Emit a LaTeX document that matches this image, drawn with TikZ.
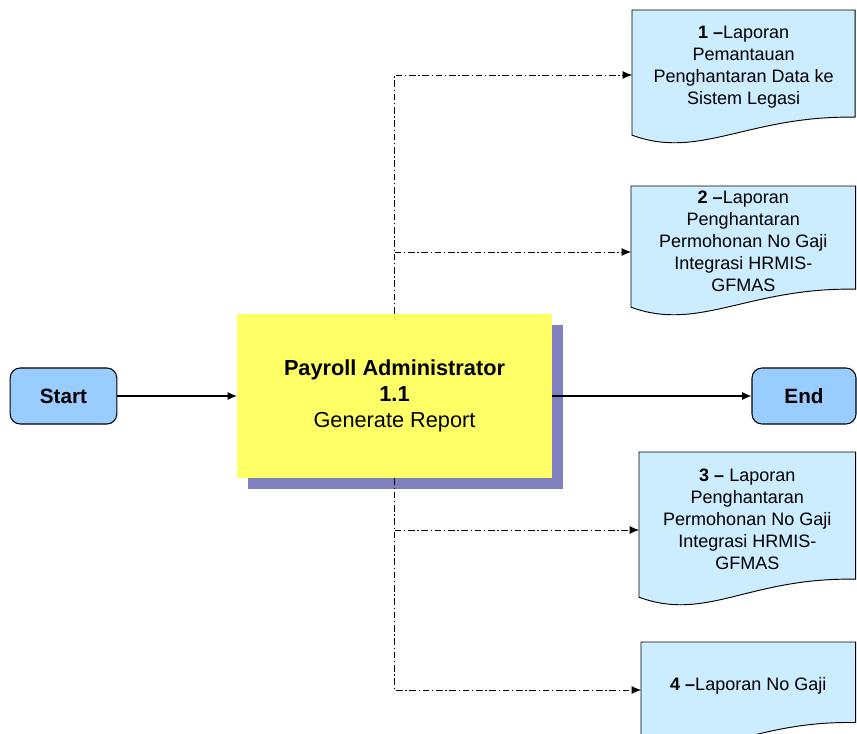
\documentclass[tikz,border=0pt]{standalone}
\usepackage{fontspec}
\setmainfont{Liberation Sans}
\usetikzlibrary{arrows.meta,shadows}
\tikzset{>={Latex[length=7pt,width=6pt]}}
\definecolor{procYellow}{HTML}{FFFF66}
\definecolor{procShadow}{HTML}{8080C0}
\definecolor{termBlue}{HTML}{99CCFF}
\definecolor{docBlue}{HTML}{CCECFF}
\tikzset{
  terminal/.style={draw,line width=0.8pt,fill=termBlue,rounded corners=7.5pt,
    minimum width=80pt,minimum height=42pt,font=\fontsize{15.5}{18}\selectfont\bfseries},
  process/.style={fill=procYellow,minimum width=236pt,minimum height=123pt,align=center,
    font=\fontsize{16.3}{19.5}\selectfont,
    general shadow={fill=procShadow,shadow xshift=8.25pt,shadow yshift=-8.25pt}},
  docbox/.style={anchor=north west,inner sep=0pt,align=center,
    font=\fontsize{13.5}{16.5}\selectfont},
  docshape/.style={draw,line width=0.7pt,fill=docBlue},
  flow/.style={line width=0.7pt,dash pattern=on 5pt off 2pt on 1pt off 2pt},
  solid flow/.style={line width=0.9pt}
}
% document shape with a wavy bottom, drawn round a text node
\newcommand{\docpath}[1]{%
  \draw[docshape] ([yshift=-7.5pt]#1.south west) -- (#1.north west) -- (#1.north east)
    -- ([yshift=6pt]#1.south east)
    .. controls +(-107,-2) and +(68,25) .. ([yshift=-7.5pt]#1.south west) -- cycle;}
\begin{document}
\begin{tikzpicture}[x=0.75pt,y=-0.75pt]
\useasboundingbox (0,0) rectangle (857,734);

% reports
\node[docbox,minimum width=167pt,minimum height=86pt] (r1) at (632,10) {};
\node[docbox,minimum width=168pt,minimum height=83pt] (r2) at (631,186) {};
\node[docbox,minimum width=162pt,minimum height=101pt] (r3) at (639,452) {};
\node[docbox,minimum width=160.5pt,minimum height=66pt] (r4) at (641,642) {};
\docpath{r1}
\docpath{r2}
\docpath{r3}
\docpath{r4}
\node[docbox,anchor=center] at (r1) {\textbf{1 –}Laporan\\Pemantauan\\Penghantaran Data ke\\Sistem Legasi};
\node[docbox,anchor=center] at (r2) {\textbf{2 –}Laporan\\Penghantaran\\Permohonan No Gaji\\Integrasi HRMIS-\\GFMAS};
\node[docbox,anchor=center] at (r3) {\textbf{3 –} Laporan\\Penghantaran\\Permohonan No Gaji\\Integrasi HRMIS-\\GFMAS};
\node[docbox,anchor=center] at (r4) {\textbf{4 –}Laporan No Gaji};

% main flow
\node[terminal] (start) at (63.5,396) {Start};
\node[process] (proc) at (394.5,396) {\textbf{Payroll Administrator}\\\textbf{1.1}\\Generate Report};
\node[terminal,minimum width=78pt] (end) at (804,396) {End};
\draw[solid flow,->] (start) -- (proc);
\draw[solid flow,->] (proc.east) -- (end.west);

% report branches
\coordinate (t1) at (394.5,75);
\coordinate (t2) at (394.5,252);
\coordinate (t3) at (394.5,530);
\coordinate (t4) at (394.5,690);
\draw[flow,->] (proc.north) |- (t1 -| r1.west);
\draw[flow,->] (t2) -- (t2 -| r2.west);
\draw[flow,->] (proc.south) |- (t4 -| r4.west);
\draw[flow,->] (t3) -- (t3 -| r3.west);
\end{tikzpicture}
\end{document}
